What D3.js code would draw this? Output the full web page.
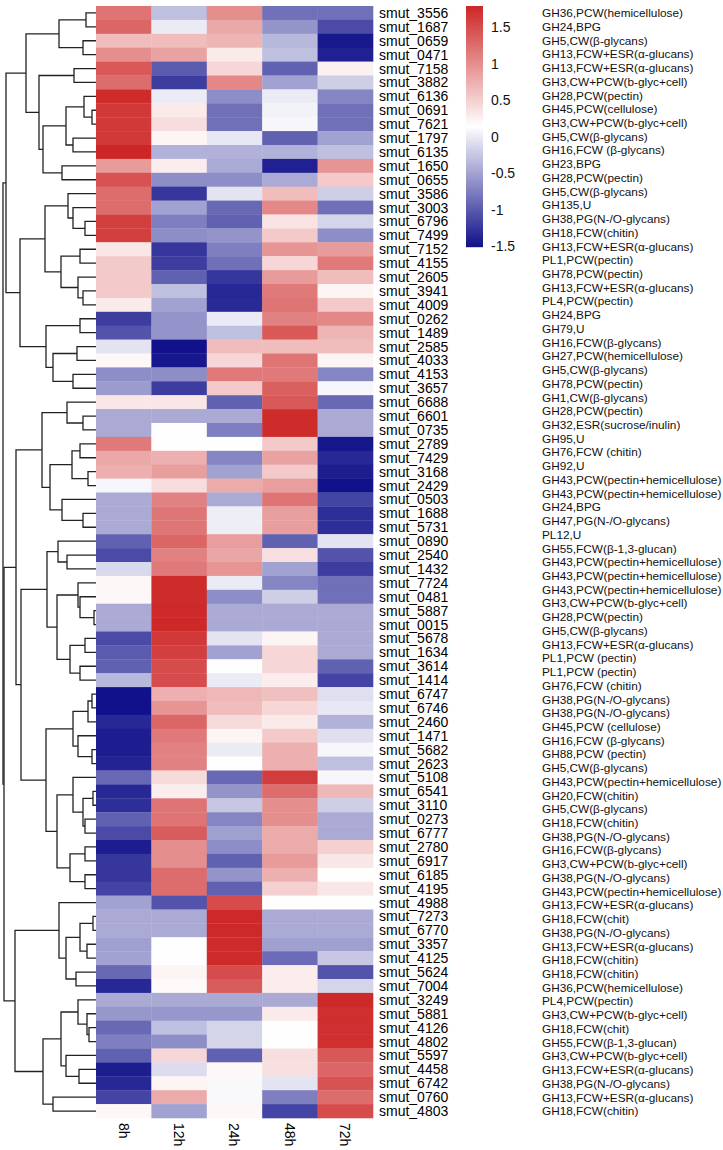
<!DOCTYPE html>
<html><head><meta charset="utf-8">
<script src="https://cdn.jsdelivr.net/npm/d3@7"></script>
<style>body{margin:0;background:#fff}svg{display:block}text{font-family:"Liberation Sans",Arial,sans-serif}</style>
</head><body><svg id="c" width="723" height="1150"></svg>
<script>
const timepoints = ["8h","12h","24h","48h","72h"];
const genes = ["smut_3556","smut_1687","smut_0659","smut_0471","smut_7158","smut_3882","smut_6136","smut_0691","smut_7621","smut_1797",
"smut_6135","smut_1650","smut_0655","smut_3586","smut_3003","smut_6796","smut_7499","smut_7152","smut_4155","smut_2605",
"smut_3941","smut_4009","smut_0262","smut_1489","smut_2585","smut_4033","smut_4153","smut_3657","smut_6688","smut_6601",
"smut_0735","smut_2789","smut_7429","smut_3168","smut_2429","smut_0503","smut_1688","smut_5731","smut_0890","smut_2540",
"smut_1432","smut_7724","smut_0481","smut_5887","smut_0015","smut_5678","smut_1634","smut_3614","smut_1414","smut_6747",
"smut_6746","smut_2460","smut_1471","smut_5682","smut_2623","smut_5108","smut_6541","smut_3110","smut_0273","smut_6777",
"smut_2780","smut_6917","smut_6185","smut_4195","smut_4988","smut_7273","smut_6770","smut_3357","smut_4125","smut_5624",
"smut_7004","smut_3249","smut_5881","smut_4126","smut_4802","smut_5597","smut_4458","smut_6742","smut_0760","smut_4803"];
const annotations = ["GH36,PCW(hemicellulose)","GH24,BPG","GH5,CW(β-glycans)","GH13,FCW+ESR(α-glucans)","GH13,FCW+ESR(α-glucans)",
"GH3,CW+PCW(b-glyc+cell)","GH28,PCW(pectin)","GH45,PCW(cellulose)","GH3,CW+PCW(b-glyc+cell)","GH5,CW(β-glycans)",
"GH16,FCW (β-glycans)","GH23,BPG","GH28,PCW(pectin)","GH5,CW(β-glycans)","GH135,U","GH38,PG(N-/O-glycans)","GH18,FCW(chitin)",
"GH13,FCW+ESR(α-glucans)","PL1,PCW(pectin)","GH78,PCW(pectin)","GH13,FCW+ESR(α-glucans)","PL4,PCW(pectin)","GH24,BPG","GH79,U",
"GH16,FCW(β-glycans)","GH27,PCW(hemicellulose)","GH5,CW(β-glycans)","GH78,PCW(pectin)","GH1,CW(β-glycans)","GH28,PCW(pectin)",
"GH32,ESR(sucrose/inulin)","GH95,U","GH76,FCW (chitin)","GH92,U","GH43,PCW(pectin+hemicellulose)","GH43,PCW(pectin+hemicellulose)",
"GH24,BPG","GH47,PG(N-/O-glycans)","PL12,U","GH55,FCW(β-1,3-glucan)","GH43,PCW(pectin+hemicellulose)","GH43,PCW(pectin+hemicellulose)",
"GH43,PCW(pectin+hemicellulose)","GH3,CW+PCW(b-glyc+cell)","GH28,PCW(pectin)","GH5,CW(β-glycans)","GH13,FCW+ESR(α-glucans)",
"PL1,PCW (pectin)","PL1,PCW (pectin)","GH76,FCW (chitin)","GH38,PG(N-/O-glycans)","GH38,PG(N-/O-glycans)","GH45,PCW (cellulose)",
"GH16,FCW (β-glycans)","GH88,PCW (pectin)","GH5,CW(β-glycans)","GH43,PCW(pectin+hemicellulose)","GH20,FCW(chitin)","GH5,CW(β-glycans)",
"GH18,FCW(chitin)","GH38,PG(N-/O-glycans)","GH16,FCW(β-glycans)","GH3,CW+PCW(b-glyc+cell)","GH38,PG(N-/O-glycans)",
"GH43,PCW(pectin+hemicellulose)","GH13,FCW+ESR(α-glucans)","GH18,FCW(chit)","GH38,PG(N-/O-glycans)","GH13,FCW+ESR(α-glucans)",
"GH18,FCW(chitin)","GH18,FCW(chitin)","GH36,PCW(hemicellulose)","PL4,PCW(pectin)","GH3,CW+PCW(b-glyc+cell)","GH18,FCW(chit)",
"GH55,FCW(β-1,3-glucan)","GH3,CW+PCW(b-glyc+cell)","GH13,FCW+ESR(α-glucans)","GH38,PG(N-/O-glycans)","GH13,FCW+ESR(α-glucans)",
"GH18,FCW(chitin)"];
const v8h = [1.2,1.3,0.65,1.0,1.4,1.25,1.75,1.65,1.65,1.65,1.79,0.9,1.45,1.25,1.25,1.6,1.6,0.33,0.55,0.55,
0.55,0.3,-1.2,-1.05,-0.05,0.2,-0.65,-0.55,0.33,-0.45,-0.45,1.15,0.8,0.75,0.08,-0.45,-0.45,-0.45,-0.95,-1.1,
-0.12,0.2,0.2,-0.45,-0.45,-1.1,-1.0,-0.95,-0.35,-1.5,-1.5,-1.35,-1.42,-1.42,-1.38,-0.9,-1.35,-1.3,-0.95,-1.1,
-1.42,-1.25,-1.25,-1.15,-0.5,-0.45,-0.45,-0.52,-0.5,-0.9,-1.35,-0.45,-0.58,-0.9,-0.75,-0.95,-1.42,-1.35,-1.15,0.2];
const v12h = [-0.3,0,0.65,0.85,-1.0,-1.2,0,0.3,0.4,0.22,-0.4,0.28,-0.65,-1.25,-0.5,-0.75,-0.65,-1.25,-1.2,-0.95,
-0.3,-0.5,-0.6,-0.6,-1.5,-1.47,-0.65,-1.2,0.33,-0.45,0.15,0.15,0.75,0.88,0.4,1.1,1.18,1.18,1.3,1.1,
1.15,1.75,1.75,1.77,1.77,1.65,1.6,1.5,1.5,0.75,0.95,1.3,1.15,1.1,1.1,0.42,0.28,1.2,1.2,1.38,
1.0,1.0,1.25,1.25,-1.05,-0.45,-0.45,0.15,0.15,0.22,0.18,-0.45,-0.58,-0.3,-0.65,0.45,-0.1,0.22,0.78,-0.5];
const v24h = [1.0,0.8,0.7,0.3,0.45,1.05,-0.65,-0.85,-0.85,-0.02,-0.4,-0.45,-0.65,-0.05,-0.9,-0.95,-0.6,-0.75,-0.85,-1.25,
-1.35,-1.33,0,-0.3,0.65,0.45,1.15,0.55,-0.95,-0.45,-0.75,0.15,-0.7,-0.5,0.78,-0.45,0.02,0.02,0.88,0.82,
0.95,0,-0.65,-0.45,-0.45,-0.05,-0.5,0.15,0,0.68,0.65,0.42,0.22,0,0.13,-0.9,-0.6,-0.25,-0.7,-0.52,
-0.65,-0.95,-0.6,-0.95,1.5,1.77,1.77,1.75,1.75,1.5,1.38,-0.45,-0.58,-0.15,-0.15,-0.95,0.2,0.1,0.1,0.2];
const v48h = [-0.85,-0.6,-0.35,-0.3,-0.95,-0.5,0,0.05,0.08,-0.95,-0.4,-1.4,-0.45,0.65,1.05,0.35,0.55,0.95,0.45,0.9,
1.15,1.2,1.1,1.4,0.65,1.2,1.15,1.35,1.4,1.75,1.75,0.55,0.85,0.55,0.88,1.2,0.88,0.88,-0.95,0.38,
-0.5,-0.7,-0.2,-0.45,-0.45,0.22,0.45,0.45,0.28,0.62,0.45,0.3,0.55,0.75,0.75,1.62,1.25,1.0,1.0,0.78,
0.78,0.9,0.75,0.5,0.15,-0.45,-0.45,-0.52,-0.88,0.28,0.28,-0.45,0.3,0.15,0.15,0.38,0.38,-0.05,-0.75,-1.15];
const v72h = [-0.85,-1.1,-1.45,-1.4,0.25,-0.2,-0.7,-0.85,-0.85,-0.5,-0.3,0.95,0.55,-0.2,-0.85,-0.15,-0.65,0.9,1.15,0.65,
0.22,0.55,1.05,0.7,0.65,0.22,-0.7,0.08,-0.9,-0.45,-0.45,-1.47,-1.35,-1.42,-1.5,-1.15,-1.3,-1.3,-0.05,-1.05,
-1.2,-0.85,-0.85,-0.45,-0.45,-0.45,-0.45,-0.95,-1.15,-0.08,-0.02,-0.4,-0.08,0.08,-0.3,0.08,0.68,-0.2,-0.45,-0.45,
0.5,0.33,0.15,0.33,0.15,-0.45,-0.45,-0.52,-0.25,-1.05,-0.15,1.77,1.72,1.72,1.72,1.42,1.3,1.45,1.25,1.5];
const legendTicks = [1.5,1,0.5,0,-0.5,-1,-1.5];
// row dendrogram: [height, left, right]; leaves are row indices
const rowTree = [93,
 [90,
  [70,
   [37,[10,0,1],[13,2,3]],
   [57,[22,4,5],
       [53,[30,[12,6,[4,7,8]],[23,9,10]],[34,11,12]]]],
  [76,
   [51,[28,13,[23,14,[11,15,16]]],
       [35,[16,17,18],[18,19,[13,20,21]]]],
   [50,[16,22,23],[43,[19,24,25],[23,26,27]]]]],
 [92,
  [80,
   [54,[29,28,[13,29,30]],
       [46,[24,[16,31,32],[8,33,34]],[34,35,[13,36,37]]]],
   [75,
    [49,[38,38,[29,39,40]],
        [39,[18,41,[16,42,[2,43,44]]],[26,[11,45,46],[16,47,48]]]],
    [50,[23,[8,[4,49,50],51],[18,52,[4,53,54]]],
        [39,[23,55,[13,[3,56,57],[11,58,59]]],[26,[11,60,61],[11,62,63]]]]]],
  [81,
   [37,64,[30,[16,[3,65,66],[9,67,68]],[20,69,70]]],
   [53,[35,[18,71,[9,72,[7,73,74]]],[30,75,[17,76,77]]],[43,78,79]]]]];

const series = [v8h, v12h, v24h, v48h, v72h];
const svg = d3.select("#c");
const x = d3.scaleBand().domain(timepoints).range([96, 373]);
const y = d3.scaleBand().domain(d3.range(genes.length)).range([6, 1118]);
const vmin = -1.51, vmax = 1.79, vmid = (vmin + vmax) / 2;
const color = d3.scaleLinear().domain([vmin, vmid, vmax]).range(["#10108a", "#ffffff", "#cd2626"]);

// cells
const cells = [];
series.forEach((s, j) => s.forEach((v, i) => cells.push({col: timepoints[j], row: i, v})));
svg.append("g").selectAll("rect").data(cells).join("rect")
  .attr("x", d => x(d.col)).attr("y", d => y(d.row))
  .attr("width", x.bandwidth() + 0.3).attr("height", y.bandwidth() + 0.3)
  .attr("fill", d => color(d.v));

// gene labels
svg.append("g").selectAll("text").data(genes).join("text")
  .attr("x", 379).attr("y", (d, i) => y(i) + y.bandwidth() / 2)
  .attr("dy", "0.36em").attr("font-size", 14).attr("fill", "#000").text(d => d);

// column labels
svg.append("g").selectAll("text").data(timepoints).join("text")
  .attr("transform", d => `translate(${x(d) + x.bandwidth() / 2},1123) rotate(90)`)
  .attr("dy", "0.36em").attr("font-size", 14).attr("fill", "#000").text(d => d);

// annotation labels
const ya = d3.scalePoint().domain(d3.range(annotations.length))
  .range([y(0) + y.bandwidth() / 2, y(genes.length - 1) + y.bandwidth() / 2]);
svg.append("g").selectAll("text").data(annotations).join("text")
  .attr("x", 542).attr("y", (d, i) => ya(i)).attr("dy", "0.36em")
  .attr("font-size", 11.8).attr("fill", "#111").text(d => d);

// legend
const ly = d3.scaleLinear().domain([vmin, vmax]).range([247, 6]);
const lg = svg.append("g");
const steps = d3.range(0, 241);
lg.selectAll("rect").data(steps).join("rect")
  .attr("x", 466).attr("width", 17)
  .attr("y", d => 6 + d).attr("height", 1.2)
  .attr("fill", d => color(ly.invert(6 + d + 0.5)));
lg.selectAll("text").data(legendTicks).join("text")
  .attr("x", 491).attr("y", d => ly(d)).attr("dy", "0.36em")
  .attr("font-size", 14).attr("fill", "#111").text(d => d);

// dendrogram
const hx = d3.scaleLinear().domain([0, 93]).range([96, 3]);
const segs = [];
function walk(node) {
  if (typeof node === "number") return {x: hx(0), y: y(node) + y.bandwidth() / 2};
  const [h, a, b] = node;
  const A = walk(a), B = walk(b), nx = hx(h);
  segs.push(`M${A.x},${A.y}H${nx}V${B.y}H${B.x}`);
  return {x: nx, y: (A.y + B.y) / 2};
}
walk(rowTree);
svg.append("g").selectAll("path").data(segs).join("path")
  .attr("d", d => d).attr("fill", "none").attr("stroke", "#222").attr("stroke-width", 1.3);
</script></body></html>
